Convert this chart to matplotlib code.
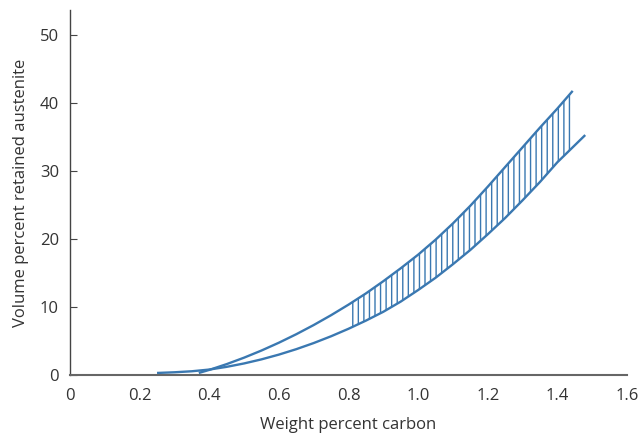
import numpy as np
import matplotlib.pyplot as plt

# upper curve
x_upper = [0.37, 0.40, 0.45, 0.50, 0.55, 0.60, 0.65, 0.70, 0.75, 0.80, 0.85, 0.90,
           0.95, 1.00, 1.05, 1.10, 1.15, 1.20, 1.25, 1.30, 1.35, 1.40, 1.444]
y_upper = [0.3, 0.75, 1.6, 2.55, 3.6, 4.75, 6.0, 7.35, 8.8, 10.35, 12.0, 13.8,
           15.7, 17.7, 19.9, 22.3, 24.9, 27.7, 30.6, 33.5, 36.4, 39.2, 41.8]

# lower curve
x_lower = [0.25, 0.30, 0.35, 0.40, 0.45, 0.50, 0.55, 0.60, 0.65, 0.70, 0.75, 0.80,
           0.85, 0.90, 0.95, 1.00, 1.05, 1.10, 1.15, 1.20, 1.25, 1.30, 1.35, 1.40,
           1.45, 1.48]
y_lower = [0.3, 0.4, 0.55, 0.8, 1.2, 1.7, 2.3, 3.0, 3.8, 4.7, 5.7, 6.8,
           8.0, 9.3, 10.8, 12.5, 14.3, 16.3, 18.4, 20.7, 23.1, 25.7, 28.4, 31.3,
           33.8, 35.3]

# hatched band limits
band_start = 0.80
band_end = 1.444

xticks = [0, 0.2, 0.4, 0.6, 0.8, 1.0, 1.2, 1.4, 1.6]
xtick_labels = ['0', '0.2', '0.4', '0.6', '0.8', '1.0', '1.2', '1.4', '1.6']
yticks = [0, 10, 20, 30, 40, 50]

blue = '#3a78b1'
plt.rcParams['font.family'] = ['Open Sans', 'DejaVu Sans']
plt.rcParams['hatch.linewidth'] = 1.0
plt.rcParams['hatch.color'] = blue

fig = plt.figure(figsize=(6.44, 4.36), dpi=100)
ax = fig.add_axes([70/644, 61/436, 557/644, 365/436])

xu = np.array(x_upper)
yu = np.array(y_upper)
m = (xu >= band_start) & (xu <= band_end)
ax.fill_between(xu[m], np.interp(xu[m], x_lower, y_lower), yu[m],
                facecolor='none', edgecolor=blue, hatch='|||', linewidth=0)

ax.plot(x_upper, y_upper, color=blue, lw=1.7, solid_capstyle='butt')
ax.plot(x_lower, y_lower, color=blue, lw=1.7, solid_capstyle='butt')

ax.set_xlim(0, 1.6)
ax.set_ylim(0, 53.7)
ax.set_xticks(xticks)
ax.set_xticklabels(xtick_labels)
ax.set_yticks(yticks)

for s in ['top', 'right']:
    ax.spines[s].set_visible(False)
ax.spines['left'].set_color('#444444')
ax.spines['bottom'].set_color('#666666')
ax.spines['left'].set_linewidth(1.0)
ax.spines['bottom'].set_linewidth(1.5)

ax.tick_params(axis='x', length=0, pad=9, labelsize=12, colors='#333333')
ax.tick_params(axis='y', direction='in', length=5, width=0.8, color='#444444',
               pad=8, labelsize=12, labelcolor='#333333')

ax.set_xlabel('Weight percent carbon', fontsize=12, color='#333333', labelpad=10)
ax.set_ylabel('Volume percent retained austenite', fontsize=12, color='#333333', labelpad=8)

plt.savefig('out.png', dpi=100)
